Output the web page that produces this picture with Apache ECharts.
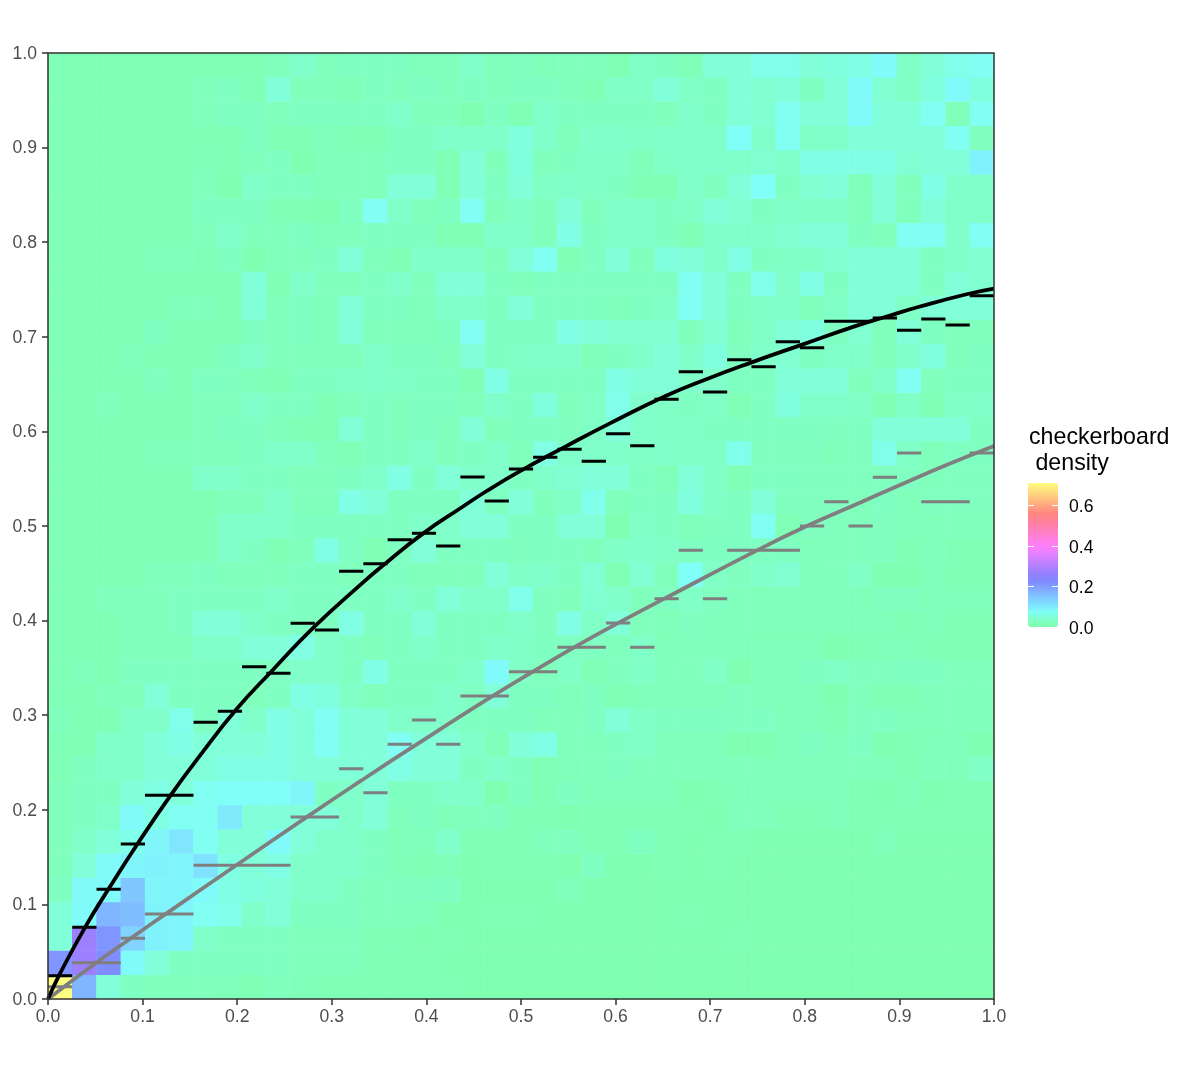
<!DOCTYPE html>
<html>
<head>
<meta charset="utf-8">
<style>html,body{margin:0;padding:0;background:#fff}#c{width:1200px;height:1080px}</style>
<script src="https://cdn.jsdelivr.net/npm/echarts@6/dist/echarts.min.js"></script>
</head>
<body>
<div id="c"></div>
<script>
// density per cell, in hundredths, row 0 = bottom row, 39 x 39 cells
const densityRows = [
[71,17,5,3,2,2,2,1.5,1,2,1.5,1,1,1,1,1,1,.5,.5,.5,.5,.5,.5,.5,.5,.5,.5,.5,.5,.5,.5,.5,.5,.5,.5,.5,.5,.5,.5],
[21,27,22,8,5,3,3,3,3,3,2,2,2,1,1,1,.5,.5,.5,.5,.5,.5,.5,.5,.5,.5,.5,.5,.5,.5,.5,.5,.5,.5,.5,.5,.5,.5,.5],
[5,27,21,13,9,8.5,4,3,3,3,2,2,2,1,1,.5,1,.5,.5,.5,.5,.5,.5,.5,.5,.5,.5,.5,1,.5,.5,.5,.5,.5,.5,.5,.5,.5,.5],
[5,8,17,16,9,8.5,7,6.5,4,5,3,3,3,2,2,1.5,.5,.5,1,1,.5,.5,.5,.5,.5,.5,1,.5,.5,.5,.5,.5,.5,.5,.5,.5,.5,.5,.5],
[3,8,8,15,8.5,8.5,8,6,5.5,5,4,4,3,2,2.5,2.5,3,.5,.5,.5,.5,1.5,.5,.5,.5,.5,.5,.5,.5,.5,.5,.5,.5,.5,.5,.5,.5,.5,.5],
[2,5,8,8.5,9,8.5,11,6,5,6,4,4,4,3,1.5,1,1.5,.5,1,1,1,.5,3,.5,.5,1,.5,1,.5,.5,.5,.5,.5,.5,.5,.5,.5,.5,.5],
[2,4,5,6.5,8.5,10.5,7,5,5,8,5,4,4,3,1.5,1.5,4,1,1,1,2,2.5,1,1,3,1,.5,1,1,.5,.5,.5,.5,.5,1.5,.5,.5,.5,.5],
[2,3,4,8,6,7,7,10,5,5,5,5,4,5,2,3,1.5,2,2.5,1,1,.5,1,1,1,1,1,.5,2,2,1,1,1.5,1,1,1,1,1,1],
[2,3,3,5,6,5,7,7.5,7.5,7.5,8.5,3,4,5,3,3,4,4,.5,3,1,3,1.5,1.5,1.5,1.5,.5,1,1.5,1.5,1.5,1.5,1.5,1,.5,1.5,.5,1,1],
[1,3,4,4,5,5,5,6,6,6,5,5,5,5,6,5,5,3,4,3,1,1.5,2,3,2,2,2,2,2,1.5,1.5,1.5,2,2,1.5,1,2,1.5,3.5],
[1,1,4,4,5,6,5,5,5,6,5,7,5,5,7,5,5,4,1.5,5,6,2,2,3,3.5,1.5,1.5,1.5,.5,.5,2,3,1.5,3,.5,1,1.5,1.5,.5],
[2,1,1,4,4,6.5,3,5,4,6,5,7,5,5,4,4,4,3,3,3,2,2,3,5,3.5,3,3,3,2.5,3,1.5,1.5,1,2.5,3,1.5,1.5,2,2],
[1,1,2,2,5,3,3,3,2,3,6,5.5,3.5,2,3,3,4,3,5,3,3,1.5,3,1,1.5,1.5,1.5,1.5,2.5,2,1.5,1.5,.5,2,1,1,2,2,2],
[1,2,1,3,3,3,3,3,3,3,4,4,3,6,3,3,3,4,8,3.5,2,3.5,1,2.5,3.5,2,2,3.5,.5,1.5,1.5,3,3.5,2.5,2.5,3,3,2,2],
[1,1,1,2,2,2,4,4,5,5,6,4,3,2,3,4,3,3,4,3.5,3,3,3,2,3.5,1.5,2,2,1.5,1.5,1.5,1.5,.5,1,1.5,1.5,1,1,1],
[1,1,1,2,2,3,5,5,4,3,3,3,6,3,3,5,3,3,3,4,2.5,6,3.5,5,2,1.5,2.5,2,2,1.5,1.5,1.5,1.5,1.5,1.5,1,1.5,1,1],
[1,1,2,2,2,3,3,3,3,4,3,3,3,3,4,3,5,4,4,6.5,2.5,2,4.5,4,2,3,3.5,2.5,2,1.5,2,1.5,1.5,1.5,2.5,2.5,1.5,1.5,1.5],
[1,1,1,1,2,2,3,2,2,2,3,3,2,3,3,2,2,2,5,3.5,4,3,4.5,1,4.5,2,7.5,3.5,2.5,4,4.5,2,2,3.5,.5,.5,1.5,1,1],
[1,1,1,1,1,1,1,4,3,1,2,6,3,1,3,5,3,3,3,2.5,3,3,2,3.5,4,3.5,3,3,3,3,3,1.5,2,2,2.5,1,2,1,1],
[1,1,1,1,1,1,1,4,4,4,3,3,3,3,3,4,4,5,5,3,3,5,5,.5,3.5,3,2,2.5,3,7,1,2.5,2,2,2.5,2,1.5,2,2],
[1,1,1,1,1,1,1,2,2,4,2,2,6,5,3,3,3,5,3,5,2,3.5,6.5,2,3,3,5.5,3.5,3,5,2.5,2.5,2.5,2,3,1.5,2.5,2.5,2.5],
[1,1,1,1,1,1,4,4,3,3,2,2,3,4,6,3,5,4,4,3,4,4.5,5,5,3,1.5,5,3.5,1,3,3,2.5,2.5,2.5,2.5,2.5,2,2.5,2.5],
[1,1,1,1,2,2,2,2,3,4,4,2,1,3,3,4,2,3,4,2,6,4,4,4,3.5,4,3.5,3.5,6.5,2.5,2.5,2.5,1.5,2.5,6.5,3.5,1.5,3,3],
[1,1,1,1,1,1,2,3,3,2,1,1,5,3,2,3,2,5,2,3,3,2.5,3.5,5,4,3.5,3.5,3,3,3,3,3,2.5,3,5,5,5,5,3],
[1,1,2,1,1,1,2,2,4,3,3,1,2,3,2,3,3,2,4,3,5.5,2,3.5,6.5,4,3.5,3,3.5,1,3,5.5,4,4,3.5,1,3.5,1,3.5,4],
[1,1,1,1,2.5,1,3,2.5,1.5,1,3,3,3.5,4,3.5,3,3,1,6,3,3,3,3,6,5,5,4,4,3,3,5,5,5,2,4,7,2,3,3],
[1,1,1,2,1,1,1,3,4,2,2,2,2,4,3,3,2,5,3,3.5,4,4,1.5,3,4,5,4,5.5,2.5,4,4.5,3,4,4,2,4,5.5,2,3],
[1,1,1,1,3,1,1,1,3,2,3,2,5,2,2,2,3,7,3,3,3,6,5,4.5,4.5,4.5,2,4.5,2,3.5,5,5.5,3,4.5,2,5,3,2,2],
[1,1,1,1,1,2,2,1,5,2,3,2,5,3,3,2,4,4,3,5,3,3,3,1.5,3,3.5,7,5,3,3.5,4,2,3.5,5,5,3.5,5,5,5],
[1,1,1,1,1,1,1,1,5,1,4,2,2,3,4,2,5,5,3,2,3,3,3,3,3,3,7,5,3,6.5,4,6,3,5,5,5,3,5,4.5],
[1,1,1,1,2,2,1,3,.5,2,2,3,5,2,1,4,4,4,2,5,7,1,3,5,2,5.5,5,4,6,3,3.5,3.5,4.5,5,5,5,3,4,4.5],
[1,1,1,1,1,1,2,4,2,2,3,2,2,3,3,3,1,1,4,4,2,6,3,4,4,3,1,4,4,4,4.5,5,5,3,2,7,7,4,7],
[1,1,1,1,1,1,3,3,3,1,1,.5,3,7,4,2,3,7,2,3.5,2,5,2,4,4,3,3.5,5,4.5,3,4,3.5,3.5,2,5,2,5,4,4],
[1,1,1,1,1,1,2,.5,4,3,3,2,2,2,5,5,1,5,3,5,3.5,4,3.5,3,1,1,4,2.5,5,7.5,3,4.5,5,1.5,5,2,6,4,4],
[1,1,1,1,1,1,1.5,1,2,3,.5,2,2,2,3,3,1,5,2,5.5,2,3,3.5,3.5,1.5,3.5,4,4,4,4.5,4,6,6,6,6,4.5,5,5,9],
[1,1,1,1,1,1,1,1,3,1,1,2,1,1,3,3,4,4,4,5.5,4,2,4,4,3.5,4,4,4,7.5,4,7,3.5,4,5,5,5,5,7,2.5],
[1,1,1,1,1,1,2,3,3,2,3,3,3,3,4,2,2,.5,3,1,4,3,3,3,3,2,4,3,5,4.5,7,5,5,8,5,5,7,1.5,7],
[1,1,1,1,1,1,2,3,1,5,2,2,1,3,2,3,2,3,2,3,3,2,1,3.5,3.5,5,3.5,3,5,4.5,5,3,5,8,4.5,3.5,5.5,8,5.5],
[1,1,1,1,1,1,1,1,1,2,4,2,3,3,3,2,2,4,2,2.5,1.5,2,2,1,3.5,3,1.5,5,5,6.5,6.5,5,5.5,6,8,3.5,5,6.5,7]
];
const blackCurveX = [0,.012,.039,.0648,.093,.129,.16,.1994,.2364,.2805,.3298,.358,.397,.4355,.4637,.499,.548,.594,.654,.698,.7438,.798,.851,.8866,.9218,.971,1];
const blackCurveY = [0,.0255,.0755,.1175,.1615,.2145,.2565,.3065,.3465,.3925,.4375,.4615,.4925,.5185,.537,.558,.5845,.6085,.638,.656,.673,.692,.7105,.7215,.732,.745,.751];
const greyCurveX = [0,.0514,.0902,.1272,.1994,.2734,.3298,.386,.4672,.513,.5589,.601,.654,.749,.8055,.8618,.897,.9535,1];
const greyCurveY = [0,.0385,.066,.0918,.1416,.1923,.23,.2667,.3185,.3463,.3733,.3965,.4245,.474,.5015,.5262,.5418,.566,.5846];
// bars: first cell, last cell (inclusive), level
const blackBarFrom = [0,1,2,3,4,6,7,8,9,10,11,12,13,14,15,16,17,18,19,20,21,22,23,24,25,26,27,28,29,30,31,32,34,35,36,37,38];
const blackBarTo   = [0,1,2,3,5,6,7,8,9,10,11,12,13,14,15,16,17,18,19,20,21,22,23,24,25,26,27,28,29,30,31,33,34,35,36,37,38];
const blackBarY = [.0246,.0758,.116,.1638,.2153,.2925,.3041,.3513,.3443,.3971,.3901,.4521,.4602,.4855,.4923,.4789,.5518,.5264,.5603,.5726,.5811,.5684,.5976,.5849,.634,.6631,.6417,.6758,.6684,.6948,.6885,.7164,.7199,.7069,.7188,.7125,.7435];
const greyBarFrom = [0,1,3,4,6,10,12,13,14,15,16,17,19,21,23,24,25,26,27,28,31,32,33,34,35,36,38];
const greyBarTo   = [0,2,3,5,9,11,12,13,14,15,16,18,20,22,23,24,25,26,27,30,31,32,33,34,35,37,38];
const greyBarY = [.013,.0384,.0641,.0898,.1413,.1924,.2435,.2181,.2692,.2949,.2692,.3203,.346,.3717,.3975,.3717,.4232,.4743,.4232,.4743,.5,.5257,.5,.5515,.5772,.5257,.5772];
const legendTicks = [0,.2,.4,.6];
const legendMax = .71;
const legendTitle = 'checkerboard\n density';
const palette = ['#80ffb0','#80ffc8','#80fff8','#80e0ff','#80c6ff','#80a8ff','#808aff','#9480ff','#b180ff','#d080ff','#ee80ff','#ff80f3','#ff80d4','#ff80b6','#ff8098','#ff8680','#ffa580','#ffc480','#ffe180','#ffff80'];

const N = densityRows.length;
const cats = Array.from({length:N},(_,i)=>String(i));
const heat = [];
densityRows.forEach((row,r)=>row.forEach((v,c)=>heat.push([c,r,v/100])));
const zip = (xs,ys)=>xs.map((x,i)=>[x,ys[i]]);
const bars = (from,to,y)=>{const d=[];from.forEach((f,i)=>{d.push([f/N,y[i]],[(to[i]+1)/N,y[i]],[null,null]);});return d;};
const FONT = '"Liberation Sans", Helvetica, Arial, sans-serif';

const chart = echarts.init(document.getElementById('c'),null,{renderer:'canvas'});
chart.setOption({
  animation:false,
  backgroundColor:'#ffffff',
  textStyle:{fontFamily:FONT},
  title:{text:legendTitle,left:1029,top:424.5,padding:0,itemGap:0,
    textStyle:{fontFamily:FONT,fontSize:23.2,fontWeight:'normal',color:'#000',lineHeight:26}},
  grid:[
    {left:48,top:53,width:946,height:946,show:true,z:10,backgroundColor:'transparent',borderColor:'#333333',borderWidth:1.5},
    {left:1028,top:483,width:30,height:144,show:false}
  ],
  xAxis:[
    {type:'value',gridIndex:0,min:0,max:1,interval:.1,position:'bottom',z:11,
     splitLine:{show:false},axisLine:{show:false},
     axisTick:{length:6,lineStyle:{color:'#333333',width:1.5}},
     axisLabel:{margin:9,fontSize:17.6,fontFamily:FONT,color:'#4d4d4d',formatter:v=>v.toFixed(1),hideOverlap:false,showMinLabel:true,showMaxLabel:true}},
    {type:'category',gridIndex:0,data:cats,show:false,position:'top'},
    {type:'value',gridIndex:1,min:0,max:1,show:false}
  ],
  yAxis:[
    {type:'value',gridIndex:0,min:0,max:1,interval:.1,position:'left',z:11,
     splitLine:{show:false},axisLine:{show:false},
     axisTick:{length:6,lineStyle:{color:'#333333',width:1.5}},
     axisLabel:{margin:11,formatter:v=>'{t|'+v.toFixed(1)+'}',hideOverlap:false,showMinLabel:true,showMaxLabel:true,
       rich:{t:{fontSize:17.6,fontFamily:FONT,color:'#4d4d4d',padding:[2,0,0,0]}}}},
    {type:'category',gridIndex:0,data:cats,show:false,position:'right'},
    {type:'value',gridIndex:1,min:0,max:legendMax,position:'left',z:6,
     splitLine:{show:false},axisLine:{show:false},axisLabel:{show:false},
     axisTick:{inside:true,length:6,customValues:legendTicks,lineStyle:{color:'#ffffff',width:1}}},
    {type:'value',gridIndex:1,min:0,max:legendMax,position:'right',z:6,
     splitLine:{show:false},axisLine:{show:false},
     axisTick:{inside:true,length:6,customValues:legendTicks,lineStyle:{color:'#ffffff',width:1}},
     axisLabel:{margin:11,customValues:legendTicks,formatter:v=>'{t|'+v.toFixed(1)+'}',showMinLabel:true,showMaxLabel:true,
       rich:{t:{fontSize:17.6,fontFamily:FONT,color:'#000',padding:[4,0,0,0]}}}}
  ],
  visualMap:{type:'continuous',seriesIndex:0,dimension:2,min:0,max:legendMax,calculable:false,realtime:false,
    left:1028,top:483,itemWidth:30,itemHeight:144,padding:0,text:null,showLabel:false,
    textStyle:{color:'transparent',fontSize:1},inRange:{color:palette}},
  series:[
    {type:'heatmap',xAxisIndex:1,yAxisIndex:1,data:heat,z:1,emphasis:{disabled:true},itemStyle:{borderWidth:0},progressive:0},
    {type:'line',xAxisIndex:0,yAxisIndex:0,data:bars(greyBarFrom,greyBarTo,greyBarY),showSymbol:false,connectNulls:false,silent:true,z:3,lineStyle:{color:'#7f7f7f',width:3,cap:'butt'}},
    {type:'line',xAxisIndex:0,yAxisIndex:0,data:bars(blackBarFrom,blackBarTo,blackBarY),showSymbol:false,connectNulls:false,silent:true,z:3,lineStyle:{color:'#000000',width:3,cap:'butt'}},
    {type:'line',xAxisIndex:0,yAxisIndex:0,data:zip(greyCurveX,greyCurveY),showSymbol:false,smooth:.5,silent:true,z:4,clip:true,lineStyle:{color:'#7f7f7f',width:3.8}},
    {type:'line',xAxisIndex:0,yAxisIndex:0,data:zip(blackCurveX,blackCurveY),showSymbol:false,smooth:.5,silent:true,z:4,clip:true,lineStyle:{color:'#000000',width:3.8}},
    {type:'line',xAxisIndex:2,yAxisIndex:2,data:[],silent:true},
    {type:'line',xAxisIndex:2,yAxisIndex:3,data:[],silent:true}
  ]
});
</script>
</body>
</html>
